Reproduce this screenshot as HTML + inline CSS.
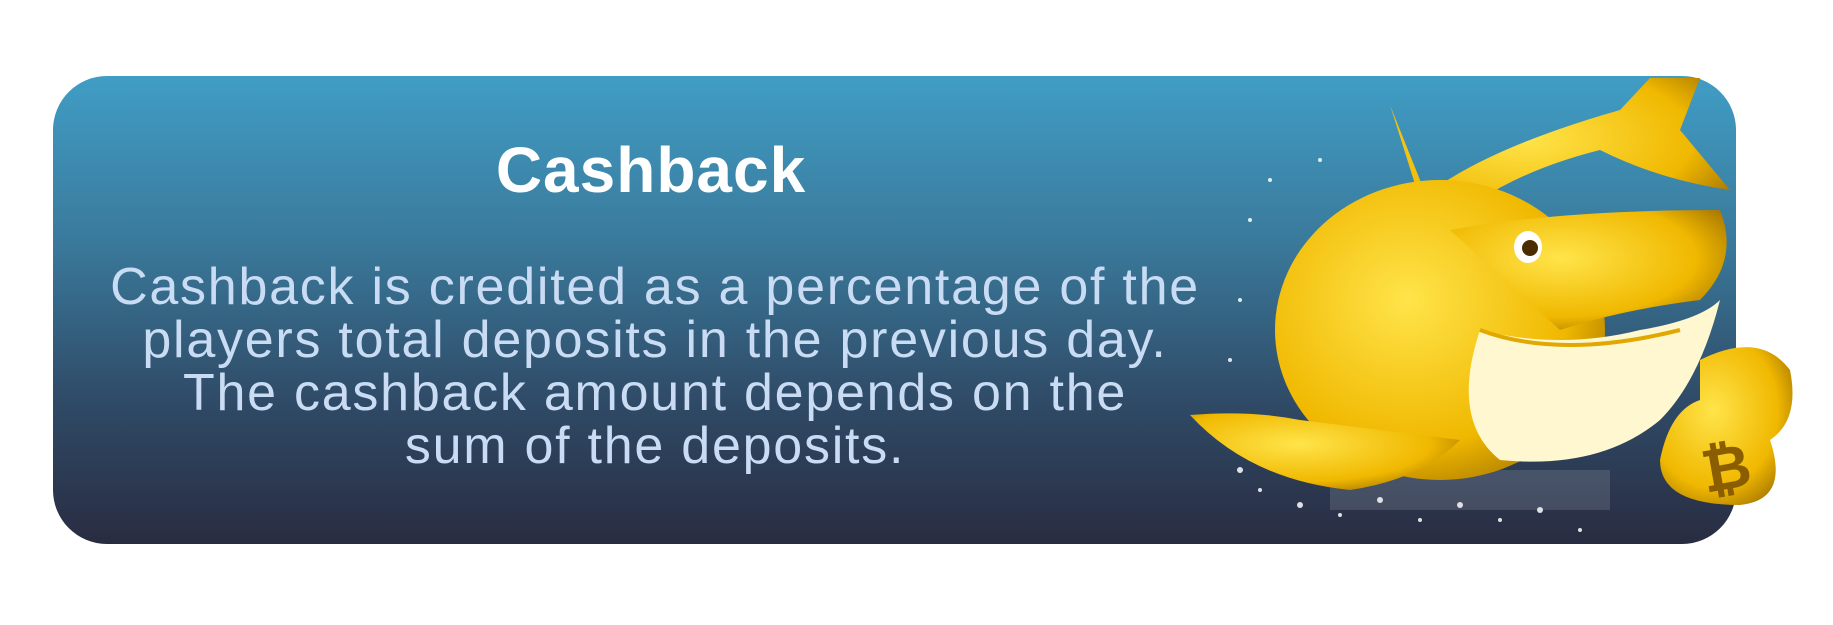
<!DOCTYPE html>
<html><head><meta charset="utf-8"><style>
html,body{margin:0;padding:0;background:#fff;width:1833px;height:625px;overflow:hidden}
.card{position:absolute;left:53px;top:76px;width:1683px;height:468px;border-radius:54px;background:linear-gradient(#409dc5 0%,#3a7a9c 35%,#2f4a66 70%,#292c41 100%)}
.title{position:absolute;left:251px;width:800px;top:133px;text-align:center;font:bold 64px "Liberation Sans",sans-serif;color:#fff;letter-spacing:1px}
.body{position:absolute;left:0px;width:1310px;top:261px;text-align:center;font:52px/53px "Liberation Sans",sans-serif;color:#c9dcf4;letter-spacing:1.75px}
svg{position:absolute;left:0;top:0}
</style></head><body>
<div class="card"></div>
<div class="title">Cashback</div>
<div class="body">Cashback is credited as a percentage of the<br>players total deposits in the previous day.<br>The cashback amount depends on the<br>sum of the deposits.</div>
<svg width="1833" height="625">
<defs><radialGradient id="g" cx="0.4" cy="0.4" r="0.7"><stop offset="0" stop-color="#ffe44a"/><stop offset="0.7" stop-color="#f0b800"/><stop offset="1" stop-color="#a87800"/></radialGradient></defs>
<g fill="#fff" opacity="0.85">
<circle cx="1240" cy="470" r="3"/><circle cx="1260" cy="490" r="2"/><circle cx="1300" cy="505" r="3"/><circle cx="1340" cy="515" r="2"/><circle cx="1380" cy="500" r="3"/><circle cx="1420" cy="520" r="2"/><circle cx="1460" cy="505" r="3"/><circle cx="1500" cy="520" r="2"/><circle cx="1540" cy="510" r="3"/><circle cx="1580" cy="530" r="2"/><circle cx="1250" cy="220" r="2"/><circle cx="1270" cy="180" r="2"/><circle cx="1240" cy="300" r="2"/><circle cx="1230" cy="360" r="2"/><circle cx="1320" cy="160" r="2"/>
<rect x="1330" y="470" width="280" height="40" opacity="0.15"/>
</g>
<path d="M1390 105 L1420 200 Q1480 150 1620 110 L1650 78 L1700 78 L1680 130 L1730 190 Q1660 180 1600 150 Q1500 175 1440 230 Z" fill="url(#g)"/>
<ellipse cx="1440" cy="330" rx="165" ry="150" fill="url(#g)"/>
<path d="M1300 420 Q1250 410 1190 415 Q1250 480 1350 490 Q1420 480 1460 440 Z" fill="url(#g)"/>
<path d="M1450 230 Q1560 210 1720 210 Q1740 260 1700 300 Q1620 310 1560 330 Z" fill="url(#g)"/>
<path d="M1480 330 Q1560 350 1640 330 Q1700 320 1720 300 Q1700 380 1660 420 Q1600 470 1500 460 Q1450 420 1480 330 Z" fill="#fff7cf"/>
<path d="M1480 330 Q1560 360 1680 330" stroke="#e0a800" stroke-width="4" fill="none"/>
<ellipse cx="1528" cy="247" rx="14" ry="16" fill="#fff"/><circle cx="1530" cy="248" r="8" fill="#4a2c00"/>
<path d="M1700 360 Q1760 330 1790 370 Q1800 420 1770 440 Q1790 500 1740 505 Q1660 505 1660 460 Q1670 410 1700 400 Z" fill="url(#g)"/>
<text x="1702" y="490" font-family="Liberation Sans,sans-serif" font-weight="bold" font-size="60" fill="#8a5e00" transform="rotate(-10 1720 470)">₿</text>
</svg>
</body></html>
